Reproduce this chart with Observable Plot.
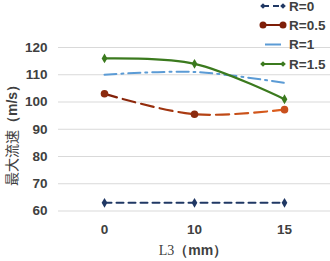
<!DOCTYPE html>
<html><head><meta charset="utf-8">
<script src="https://cdn.jsdelivr.net/npm/d3@7"></script>
<script src="https://cdn.jsdelivr.net/npm/@observablehq/plot@0.6"></script>
<style>body{margin:0;background:#fff}#c{position:relative;width:330px;height:261px}</style>
</head><body><div id="c"></div>
<script>
const categories = ["0", "10", "15"];
const seriesNames = ["R=0", "R=0.5", "R=1", "R=1.5"];
const r0 = [63, 63, 63];
const r05 = [103, 95.5, 97.2];
const r1 = [110, 111, 107];
const r15 = [116, 114, 101];
const yTicks = [60, 70, 80, 90, 100, 110, 120];

const rows = (vals, s) => vals.map((v, i) => ({x: categories[i], y: v, s}));
const d0 = rows(r0, seriesNames[0]), d05 = rows(r05, seriesNames[1]), d1 = rows(r1, seriesNames[2]), d15 = rows(r15, seriesNames[3]);

const tickStyle = {fontSize: 13.5, fontWeight: "bold", fill: "#404040", fontFamily: "Liberation Sans, Arial, sans-serif"};
const chart = Plot.plot({
  width: 330, height: 261,
  marginTop: 47, marginBottom: 50.5, marginLeft: 58, marginRight: 0,
  x: {type: "point", domain: categories, padding: 0.5},
  y: {domain: [60, 120]},
  style: {fontFamily: "Liberation Sans, Arial, sans-serif", background: "#fff"},
  marks: [
    Plot.gridY(yTicks, {stroke: "#d9d9d9", strokeOpacity: 1, strokeWidth: 1}),
    Plot.axisY(yTicks, {tickSize: 0, tickPadding: 11, label: null, ...tickStyle}),
    Plot.axisX(categories, {tickSize: 0, tickPadding: 13, label: null, ...tickStyle}),
    Plot.line(d0, {x: "x", y: "y", stroke: "#203864", strokeWidth: 2, strokeDasharray: "7,5"}),
    Plot.dot(d0, {x: "x", y: "y", symbol: "diamond", r: 3, fill: "#203864"}),
    Plot.line(d05, {x: "x", y: "y", stroke: "url(#g05)", strokeWidth: 2.2, strokeDasharray: "13,6", curve: "catmull-rom"}),
    Plot.dot(d05, {x: "x", y: "y", r: 3.8, fill: d => d.x === "15" ? "#C9501E" : "#8B2A0E"}),
    Plot.line(d1, {x: "x", y: "y", stroke: "#5B9BD5", strokeWidth: 2, strokeDasharray: "12,5,2,5", curve: "catmull-rom"}),
    Plot.line(d15, {x: "x", y: "y", stroke: "#3B7A1E", strokeWidth: 2.2, curve: "catmull-rom"}),
    Plot.dot(d15, {x: "x", y: "y", symbol: "diamond", r: 3, fill: "#3B7A1E"})
  ]
});
const svg = d3.select(chart);
const defs = svg.insert("defs", ":first-child");
const g = defs.append("linearGradient").attr("id", "g05").attr("x1", "0%").attr("x2", "100%").attr("y1", "0%").attr("y2", "0%");
g.append("stop").attr("offset", "0%").attr("stop-color", "#7E1E08");
g.append("stop").attr("offset", "100%").attr("stop-color", "#E0601E");

// axis titles
const yt = svg.append("text").attr("transform", "translate(17,132) rotate(-90)").attr("text-anchor", "middle")
  .attr("font-size", 14).attr("fill", "#404040");
yt.append("tspan").attr("font-family", "Noto Sans CJK SC").text("最大流速");
yt.append("tspan").attr("font-weight", "bold").attr("font-family", "Liberation Sans, Arial").text("（m/s）");
const xt = svg.append("text").attr("x", 193).attr("y", 255).attr("text-anchor", "middle")
  .attr("font-size", 14).attr("fill", "#404040");
xt.append("tspan").attr("font-family", "Liberation Serif, serif").text("L3");
xt.append("tspan").attr("font-weight", "bold").attr("font-family", "Liberation Sans, Arial").text("（mm）");

// legend
const lg = svg.append("g");
const items = [
  {name: seriesNames[0], y: 6, color: "#203864", dash: "6,4", mk: "d"},
  {name: seriesNames[1], y: 25, color: "#7E1E08", dash: null, mk: "c"},
  {name: seriesNames[2], y: 44.5, color: "#5B9BD5", dash: null, mk: null, short: true},
  {name: seriesNames[3], y: 64, color: "#3B7A1E", dash: null, mk: "d"}
];
items.forEach(it => {
  const x1 = it.short ? 265 : 263, x2 = it.short ? 281 : 283;
  lg.append("line").attr("x1", x1).attr("x2", x2).attr("y1", it.y).attr("y2", it.y)
    .attr("stroke", it.color).attr("stroke-width", 2).attr("stroke-dasharray", it.dash);
  [263, 283].forEach(cx => {
    if (it.mk === "d") lg.append("path").attr("d", d3.symbol(d3.symbolDiamond2, 20)()).attr("transform", `translate(${cx},${it.y})`).attr("fill", it.color);
    if (it.mk === "c") lg.append("circle").attr("cx", cx).attr("cy", it.y).attr("r", 3.5).attr("fill", it.color);
  });
  lg.append("text").attr("x", 289).attr("y", it.y).attr("dy", "0.35em").attr("text-anchor", "start").attr("font-size", 13.5).attr("font-weight", "bold")
    .attr("fill", "#404040").text(it.name);
});
document.getElementById("c").appendChild(chart);
</script></body></html>
